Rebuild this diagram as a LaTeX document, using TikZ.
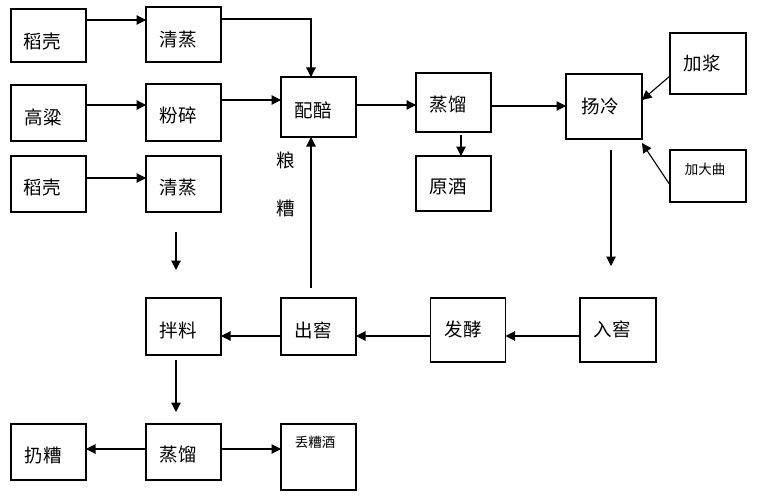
\documentclass[tikz,border=0pt]{standalone}
\usepackage{fontspec}
\newfontfamily\cjk{Noto Sans CJK SC}
\usetikzlibrary{arrows.meta}
\begin{document}
\begin{tikzpicture}[x=1pt,y=-1pt,
  box/.style={draw,line width=1.1pt,minimum width=#1,inner sep=0pt,outer sep=0pt},
  box/.default=75pt,
  txt/.style={font=\cjk\fontsize{18.5}{20}\selectfont,inner sep=0pt},
  stxt/.style={font=\cjk\fontsize{13.5}{15}\selectfont,inner sep=0pt},
  arr/.style={line width=1.1pt,-{Triangle[length=9.5pt,width=9.5pt]}},
  ln/.style={line width=1.1pt}]
\useasboundingbox (0,0) rectangle (757,500);
% boxes
\node[box,minimum height=53pt] (d1) at (48.5,35.5) {};
\node[box,minimum height=55pt] (q1) at (183.5,34.5) {};
\node[box,minimum height=56pt] (gl) at (48.5,113) {};
\node[box,minimum height=57pt] (fs) at (183.5,112.5) {};
\node[box,minimum height=56pt] (d2) at (48.5,184) {};
\node[box,minimum height=56pt] (q2) at (183.5,184) {};
\node[box,minimum height=60pt] (pz) at (318.5,107) {};
\node[box,minimum height=59pt] (zl1) at (453.5,102.5) {};
\node[box,minimum height=55pt] (yj) at (453.5,183.5) {};
\node[box,minimum width=76pt,minimum height=65pt] (yl) at (604,106.5) {};
\node[box,minimum width=76pt,minimum height=61pt] (jj) at (708,63.5) {};
\node[box,minimum width=76pt,minimum height=52pt] (dq) at (708,176) {};
\node[box,minimum height=57pt] (bl) at (183.5,326.5) {};
\node[box,minimum height=57pt] (cj) at (318.5,326.5) {};
\node[box,minimum height=64pt] (fj) at (468,330) {};
\node[box,minimum width=76pt,minimum height=64pt] (rj) at (618,330) {};
\node[box,minimum height=56pt] (rz) at (48.5,452) {};
\node[box,minimum height=56pt] (zl2) at (183.5,452) {};
\node[box,minimum height=66pt] (dz) at (318.5,457) {};
% texts
\node[txt] (t1) at (42,42) {稻壳};
\node[txt] (t2) at (178,40) {清蒸};
\node[txt] (t3) at (43,117) {高粱};
\node[txt] (t4) at (178,115) {粉碎};
\node[txt] (t5) at (42,188) {稻壳};
\node[txt] (t6) at (178,188) {清蒸};
\node[txt] (t7) at (313,110) {配醅};
\node[txt] (t8) at (286,160) {粮};
\node[txt] (t9) at (286,208) {糟};
\node[txt] (t10) at (448,105) {蒸馏};
\node[txt] (t11) at (448,187) {原酒};
\node[txt] (t12) at (600,106) {扬冷};
\node[txt] (t13) at (702,63) {加浆};
\node[stxt] (t14) at (705,169) {加大曲};
\node[txt] (t15) at (178,330) {拌料};
\node[txt] (t16) at (313,330) {出窖};
\node[txt] (t17) at (463,329) {发酵};
\node[txt] (t18) at (612,329) {入窖};
\node[txt] (t19) at (43,455) {扔糟};
\node[txt] (t20) at (178,455) {蒸馏};
\node[stxt] (t21) at (315,442) {丢糟酒};
% connector anchors
\coordinate (c1) at ([yshift=15.5pt]d1.east);
\coordinate (c2) at ([yshift=15.5pt]q1.east);
\coordinate (c3) at ([yshift=8pt]gl.east);
\coordinate (c4) at ([yshift=12.5pt]fs.east);
\coordinate (c5) at ([yshift=6pt]d2.east);
\coordinate (c6) at ([xshift=-7.5pt,yshift=10pt]cj.north);
\coordinate (c7) at ([yshift=2pt]pz.east);
\coordinate (c8) at ([xshift=7.5pt,yshift=-3pt]zl1.south);
\coordinate (c9) at ([yshift=-3.5pt]zl1.east);
\coordinate (c10) at ([yshift=-12.5pt]jj.west);
\coordinate (c10e) at ([yshift=6.5pt]yl.east);
\coordinate (c11) at ([yshift=-9pt]dq.west);
\coordinate (c11e) at ([yshift=-4pt]yl.south east);
\coordinate (c12) at ([xshift=7pt,yshift=-11pt]yl.south);
\coordinate (c12e) at ([xshift=-7pt,yshift=32pt]rj.north);
\coordinate (c13) at ([yshift=-6pt]rj.west);
\coordinate (c14) at ([yshift=-6pt]fj.west);
\coordinate (c15) at ([yshift=-9.5pt]cj.west);
\coordinate (c16) at ([xshift=-7.5pt,yshift=-20pt]q2.south);
\coordinate (c16e) at ([xshift=-7.5pt,yshift=28pt]bl.north);
\coordinate (c17) at ([xshift=-7.5pt,yshift=-5pt]bl.south);
\coordinate (c17e) at ([xshift=-7.5pt,yshift=12pt]zl2.north);
\coordinate (c18) at ([yshift=3pt]zl2.west);
\coordinate (c19) at ([yshift=3pt]zl2.east);
% connectors
\draw[arr] (c1) -- (c1 -| q1.west);
\draw[arr] (c2) -| ([xshift=-7.5pt]pz.north);
\draw[arr] (c3) -- (c3 -| fs.west);
\draw[arr] (c4) -- (c4 -| pz.west);
\draw[arr] (c5) -- (c5 -| q2.west);
\draw[arr] (c6) -- (c6 |- pz.south);
\draw[arr] (c7) -- (c7 -| zl1.west);
\draw[arr] (c8) -- (c8 |- yj.north);
\draw[arr] (c9) -- (c9 -| yl.west);
\draw[arr] (c10) -- (c10e);
\draw[arr] (c11) -- (c11e);
\draw[arr] (c12) -- (c12e);
\draw[arr] (c13) -- (c13 -| fj.east);
\draw[arr] (c14) -- (c14 -| cj.east);
\draw[arr] (c15) -- (c15 -| bl.east);
\draw[arr] (c16) -- (c16e);
\draw[arr] (c17) -- (c17e);
\draw[arr] (c18) -- (c18 -| rz.east);
\draw[arr] (c19) -- (c19 -| dz.west);
\end{tikzpicture}
\end{document}
